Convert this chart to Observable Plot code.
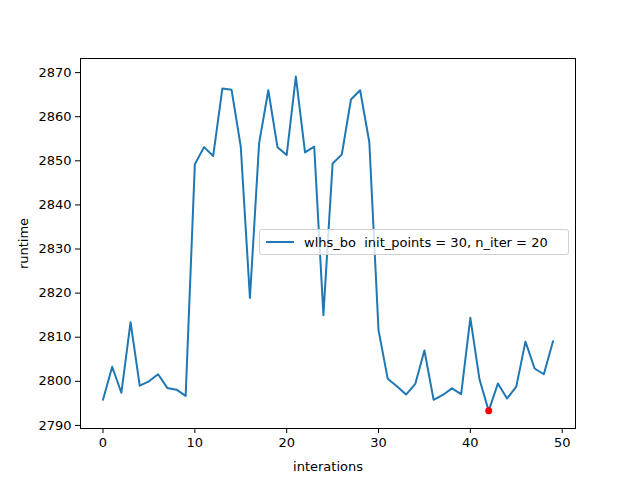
<!DOCTYPE html>
<html>
<head>
<meta charset="utf-8">
<script src="https://cdn.jsdelivr.net/npm/d3@7"></script>
<script src="https://cdn.jsdelivr.net/npm/@observablehq/plot@0.6"></script>
<style>
  body { margin: 0; background: #fff; }
  #graph { position: relative; width: 640px; height: 480px; font-family: "DejaVu Sans", sans-serif; }
  #legend { position: absolute; left: 259px; top: 229px; width: 310px; height: 26px; border: 1px solid #d0d0d0; border-radius: 3px; background: rgba(255,255,255,0.8); font-size: 13px; display: flex; align-items: center; box-sizing: border-box; }
  #legend .swatch { display: inline-block; width: 28px; height: 2px; background: #1f77b4; margin: 0 10px 0 6px; }
</style>
</head>
<body>
<div id="graph"><div id="legend"><span class="swatch"></span>wlhs_bo&nbsp; init_points = 30, n_iter = 20</div></div>
<script>
const iterations = d3.range(50);
const runtime = [2795.8, 2803.3, 2797.4, 2813.4, 2799, 2800, 2801.6, 2798.5, 2798.1, 2796.7,
  2849.2, 2853.1, 2851.1, 2866.4, 2866.1, 2853.2, 2818.9, 2854, 2866, 2853.1,
  2851.3, 2869.1, 2851.9, 2853.2, 2815, 2849.4, 2851.4, 2863.9, 2866, 2854.2,
  2811.6, 2800.6, 2798.9, 2797, 2799.4, 2807, 2795.8, 2796.9, 2798.4, 2797.1,
  2814.4, 2800.4, 2793.3, 2799.5, 2796.1, 2798.8, 2809, 2802.9, 2801.6, 2809.1];
const bestIter = [42];
const bestRuntime = [2793.3];

const data = iterations.map((i, k) => ({x: i, y: runtime[k]}));
const best = bestIter.map((i, k) => ({x: i, y: bestRuntime[k]}));

const plot = Plot.plot({
  width: 640,
  height: 480,
  marginLeft: 80,
  marginRight: 65,
  marginTop: 58,
  marginBottom: 52,
  style: {fontFamily: "DejaVu Sans, sans-serif", fontSize: "13px", color: "#000"},
  x: {domain: [-2.45, 51.45], ticks: [0, 10, 20, 30, 40, 50], tickFormat: d3.format("d"), tickSize: 5, label: "interations", labelArrow: "none", labelAnchor: "center", labelOffset: 42},
  y: {domain: [2789.3, 2873.2], ticks: d3.range(2790, 2871, 10), tickFormat: d3.format("d"), tickSize: 5, label: "runtime", labelArrow: "none", labelAnchor: "center", labelOffset: 62},
  marks: [
    Plot.frame({stroke: "#000"}),
    Plot.line(data, {x: "x", y: "y", stroke: "#1f77b4", strokeWidth: 2}),
    Plot.dot(best, {x: "x", y: "y", r: 3.5, fill: "red"})
  ]
});
d3.select("#graph").insert(() => plot, "#legend");
</script>
</body>
</html>
